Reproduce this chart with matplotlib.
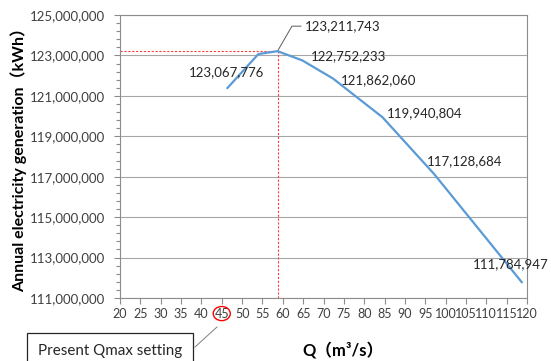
import matplotlib.pyplot as plt
from matplotlib.patches import Ellipse
from matplotlib.ticker import MultipleLocator, FuncFormatter
from matplotlib.lines import Line2D

# data
q = [46.4, 54.0, 58.7, 64.8, 72.3, 84.5, 97.2, 118.7]
energy = [121390000, 123067776, 123211743, 122752233, 121862060,
          119940804, 117128684, 111784947]
# label offsets in points (dx, dy) for the labelled points (index 1..)
label_offsets = [(-50, -13), (20, 18), (6, 3), (6, -1), (3, 3), (-5, 9), (-35, 13)]
x_ticks = list(range(20, 125, 5))
y_ticks = list(range(111000000, 125000001, 2000000))

fam = ['Lato', 'Noto Sans CJK JP']
plt.rcParams['font.family'] = fam

fig = plt.figure(figsize=(5.51, 3.61), dpi=100)
ax = fig.add_axes([120/551, 1-298/361, 407/551, 283/361])

ax.plot(q, energy, color='#5B9BD5', lw=1.6, zorder=3)

# peak reference lines
ipk = energy.index(max(energy))
ax.hlines(energy[ipk], 20, q[ipk], colors='#FF3B3B', linestyles=(0, (2, 1.5)), lw=0.8, zorder=2)
ax.vlines(q[ipk], 111000000, energy[ipk], colors='#FF3B3B', linestyles=(0, (2, 1.5)), lw=0.8, zorder=2)

for i, (dx, dy) in zip(range(1, len(q)), label_offsets):
    kw = {}
    if i == ipk:
        kw['arrowprops'] = dict(arrowstyle='-', color='#595959', lw=0.7,
                                connectionstyle='angle,angleA=0,angleB=60,rad=0',
                                shrinkA=1, shrinkB=1)
    ax.annotate(f'{energy[i]:,}', (q[i], energy[i]), xytext=(dx, dy),
                textcoords='offset points', ha='left', va='center',
                fontsize=9.5, color='#262626', annotation_clip=False, **kw)

ax.set_xlim(20, 120)
ax.set_ylim(111000000, 125000000)
ax.set_xticks(x_ticks)
ax.set_yticks(y_ticks)
ax.yaxis.set_minor_locator(MultipleLocator(400000, offset=111000000))
ax.yaxis.set_major_formatter(FuncFormatter(lambda v, p: f'{int(v):,}'))
ax.tick_params(axis='both', labelsize=9.5, colors='#8C8C8C', labelcolor='#404040', length=4, width=0.8)
ax.tick_params(axis='y', which='minor', length=3, width=0.8, colors='#8C8C8C')
ax.tick_params(axis='y', which='major', pad=7)
ax.tick_params(axis='x', pad=3, labelsize=9)
ax.grid(axis='y', color='#A6A6A6', lw=0.8)
ax.set_axisbelow(True)
for s in ax.spines.values():
    s.set_color('#8C8C8C')
    s.set_linewidth(0.8)

fig.text(19/551, 1-156/361, 'Annual electricity generation（kWh）', rotation=90,
         ha='center', va='center', fontsize=11.5, fontweight='bold', family=fam)
fig.text(343/551, 1-350/361, 'Q（m³/s）', ha='center', va='center',
         fontsize=12, fontweight='bold', family=fam)

# callout for present setting
ell = Ellipse((45, -0.055), 4.2, 0.05, transform=ax.get_xaxis_transform(),
              fill=False, edgecolor='#FF0000', lw=1.0, clip_on=False)
ax.add_patch(ell)
fig.add_artist(Line2D([195/551, 217/551], [1-347/361, 1-327/361], color='#7F7F7F', lw=0.7))
fig.text(110/551, 1-351/361, 'Present Qmax setting', ha='center', va='center',
         fontsize=10.9, color='#262626',
         bbox=dict(boxstyle='square,pad=0.7', fc='white', ec='#262626', lw=0.9))

fig.savefig('out.png', dpi=100)
